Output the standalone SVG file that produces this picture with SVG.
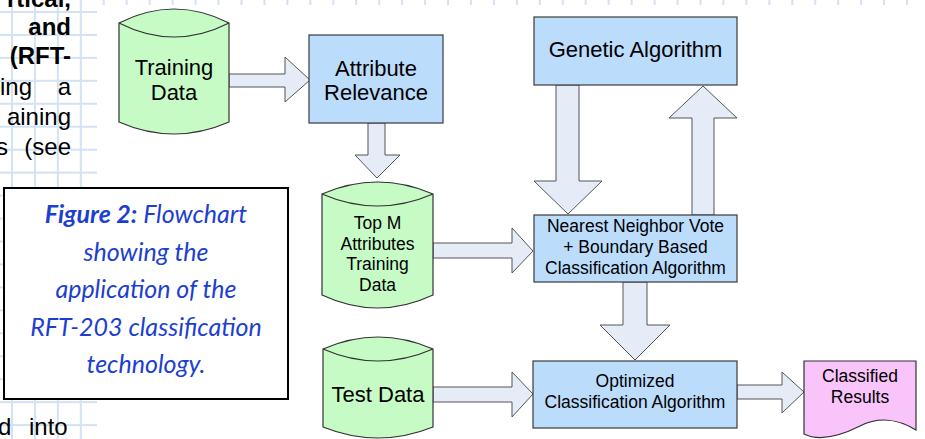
<svg xmlns="http://www.w3.org/2000/svg" width="925" height="439" viewBox="0 0 925 439">
<defs>
<pattern id="grid" patternUnits="userSpaceOnUse" width="22.95" height="22.95">
<rect x="11" y="0" width="2" height="22.95" fill="#d2e2f4"/>
<rect x="0" y="11" width="22.95" height="2" fill="#d2e2f4"/>
</pattern>
</defs>
<style>
.box{fill:#bcdcfc;stroke:#3a3a3a;stroke-width:1.2}
.cyl{fill:#c6fbc6;stroke:#333;stroke-width:1.2}
.doc{fill:#f9c4f9;stroke:#333;stroke-width:1.2}
.arr{fill:#e6ecf7;stroke:#555;stroke-width:1}
.t{font-family:"Liberation Sans",Arial,sans-serif;fill:#000;text-anchor:middle}
.big{font-size:22px}
.sm{font-size:17.5px}
.body{font-family:"Liberation Sans",Arial,sans-serif;font-size:24px;fill:#000}
.cap{font-family:Lato,"Open Sans",sans-serif;font-style:italic;font-size:25px;fill:#1d3fd0;text-anchor:middle}
</style>
<rect x="0" y="0" width="925" height="439" fill="#fff"/>
<rect x="0" y="0" width="925" height="439" fill="url(#grid)"/>
<rect x="97" y="5" width="828" height="434" fill="#fff"/>
<g id="bodytext">
<text class="body" x="71" y="7" text-anchor="end" font-weight="bold">rtical,</text>
<text class="body" x="71" y="35" text-anchor="end" font-weight="bold">and</text>
<text class="body" x="71" y="64" text-anchor="end" font-weight="bold">(RFT-</text>
<text class="body" x="0" y="95">ing</text>
<text class="body" x="71" y="95" text-anchor="end">a</text>
<text class="body" x="71" y="125" text-anchor="end">aining</text>
<text class="body" x="-4" y="155">s</text>
<text class="body" x="71" y="155" text-anchor="end">(see</text>
<text class="body" x="-2" y="435">d</text>
<text class="body" x="29" y="435">into</text>
</g>
<g id="caption">
<rect x="4" y="188" width="284" height="211" fill="#fff" stroke="#000" stroke-width="2"/>
<text class="cap" x="146" y="223"><tspan font-weight="bold">Figure 2:</tspan> Flowchart</text>
<text class="cap" x="146" y="261">showing the</text>
<text class="cap" x="146" y="298">application of the</text>
<text class="cap" x="146" y="336">RFT-203 classification</text>
<text class="cap" x="146" y="373">technology.</text>
</g>
<g id="connectors">
<polygon class="arr" points="229,74 285,74 285,57 310,80 285,102 285,87 229,87"/>
<polygon class="arr" points="368,123 385,123 385,155 400,155 377,178 355,155 368,155"/>
<polygon class="arr" points="433,243 512,243 512,228 533,251 512,273 512,258 433,258"/>
<polygon class="arr" points="556,85 579,85 579,181 602,181 568,214 534,181 556,181"/>
<polygon class="arr" points="692,215 692,118 669,118 703,86 737,118 714,118 714,215"/>
<polygon class="arr" points="623,282 647,282 647,325 670,325 635,360 600,325 623,325"/>
<polygon class="arr" points="433,387 512,387 512,372 533,394 512,417 512,402 433,402"/>
<polygon class="arr" points="737,385 782,385 782,372 804,392 782,413 782,399 737,399"/>
</g>
<g id="training-data">
<path class="cyl" d="M119,23 Q174,-5 229,23 L229,122 Q174,146 119,122 Z"/>
<path class="cyl" fill="none" d="M119,23 Q174,51 229,23"/>
<text class="t big" x="174" y="75">Training</text>
<text class="t big" x="174" y="100">Data</text>
</g>
<g id="attribute-relevance">
<rect class="box" x="309" y="35" width="134" height="88"/>
<text class="t big" x="376" y="76">Attribute</text>
<text class="t big" x="376" y="100">Relevance</text>
</g>
<g id="top-m">
<path class="cyl" d="M322,194 Q377.5,170 433,194 L433,295 Q377.5,321 322,295 Z"/>
<path class="cyl" fill="none" d="M322,194 Q377.5,218 433,194"/>
<text class="t sm" x="377.5" y="229">Top M</text>
<text class="t sm" x="377.5" y="250">Attributes</text>
<text class="t sm" x="377.5" y="270">Training</text>
<text class="t sm" x="377.5" y="291">Data</text>
</g>
<g id="genetic">
<rect class="box" x="534" y="17" width="203" height="68"/>
<text class="t big" x="635.5" y="57">Genetic Algorithm</text>
</g>
<g id="nearest">
<rect class="box" x="534" y="215" width="203" height="67"/>
<text class="t sm" x="635.5" y="232">Nearest Neighbor Vote</text>
<text class="t sm" x="635.5" y="253">+ Boundary Based</text>
<text class="t sm" x="635.5" y="274">Classification Algorithm</text>
</g>
<g id="test-data">
<path class="cyl" d="M323,349 Q378,325 433,349 L433,427 Q378,449 323,427 Z"/>
<path class="cyl" fill="none" d="M323,349 Q378,373 433,349"/>
<text class="t big" x="378" y="402">Test Data</text>
</g>
<g id="optimized">
<rect class="box" x="533" y="361" width="204" height="67"/>
<text class="t sm" x="635" y="387">Optimized</text>
<text class="t sm" x="635" y="408">Classification Algorithm</text>
</g>
<g id="classified">
<path class="doc" d="M804,361 H916 V430 C900,420 880,416 860,426 C840,436 820,442 804,434 Z"/>
<text class="t sm" x="860" y="382">Classified</text>
<text class="t sm" x="860" y="403">Results</text>
</g>
</svg>
